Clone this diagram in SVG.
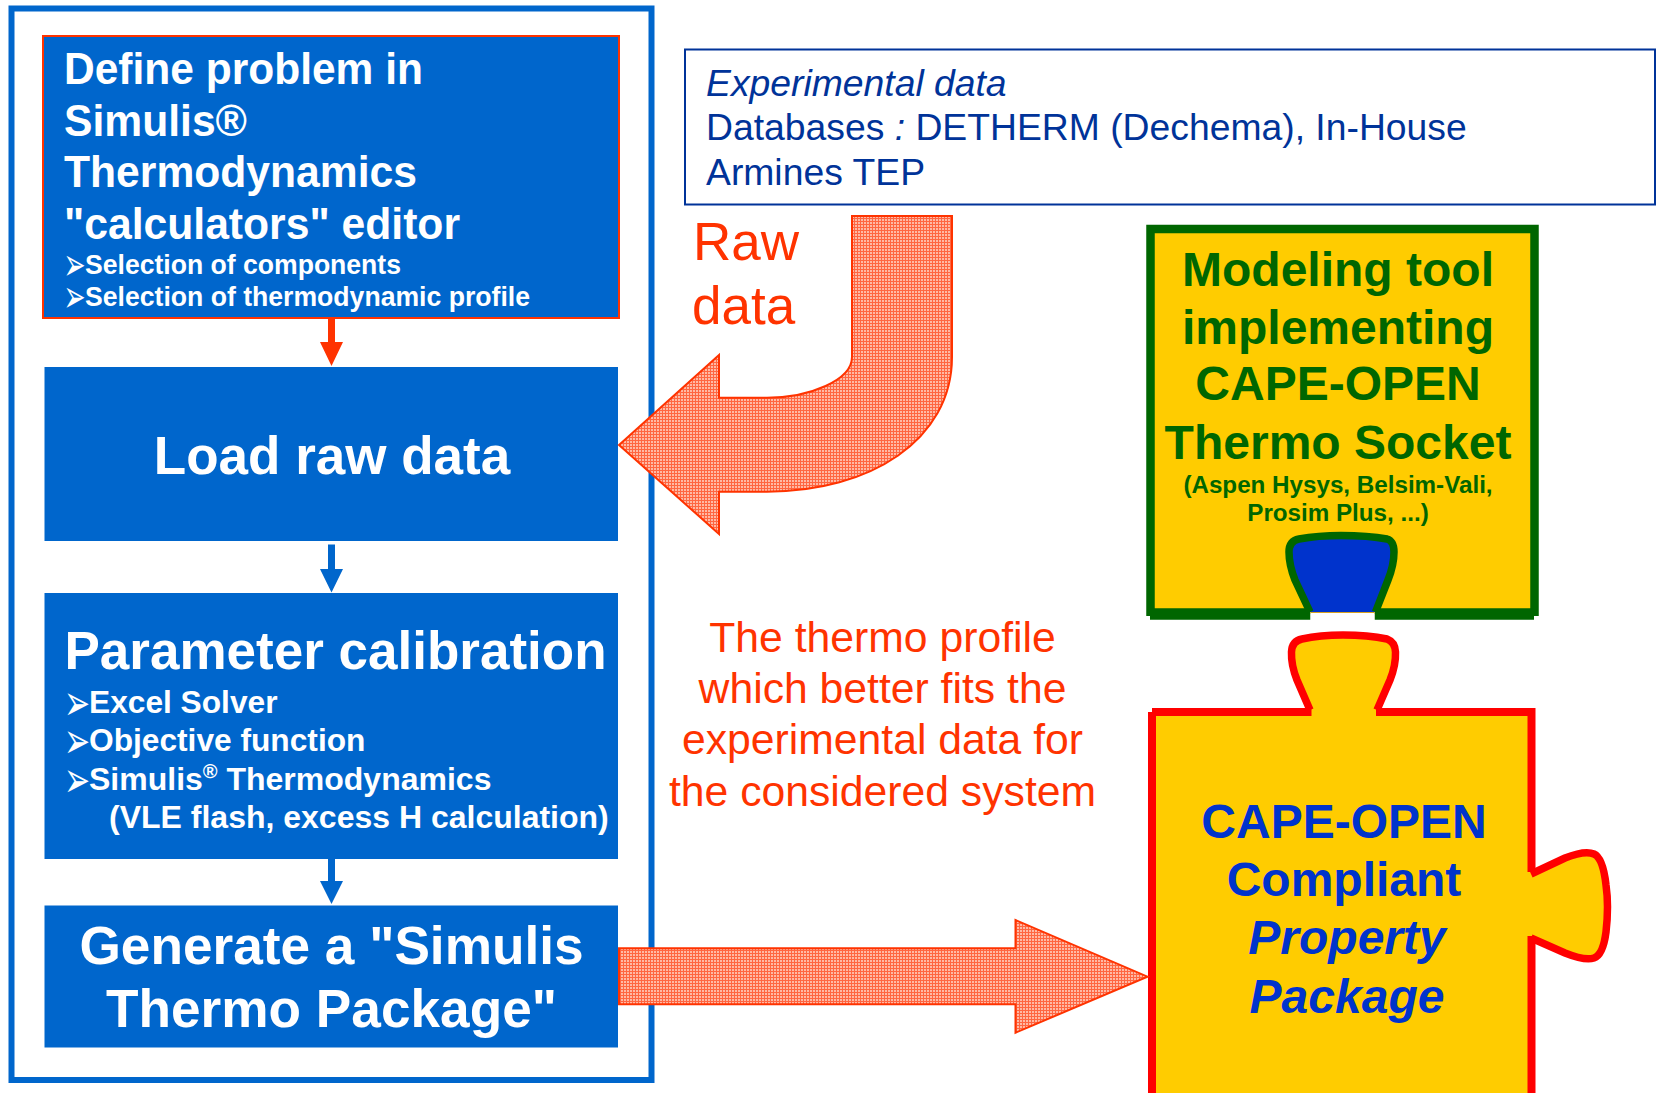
<svg xmlns="http://www.w3.org/2000/svg" width="1661" height="1093" viewBox="0 0 1661 1093">
<style>
text{font-family:"Liberation Sans",Arial,sans-serif}
.w{fill:#fff;font-weight:bold}
.box{fill:#0066cc}
.c{text-anchor:middle}
.r{fill:#ff3300}
.g{fill:#006600;font-weight:bold;text-anchor:middle}
.b{fill:#0033cc;font-weight:bold;text-anchor:middle}
.k{font-family:"DejaVu Sans",sans-serif;font-weight:normal;fill:#fff;font-size:24px}
.big{fill:url(#dots);stroke:#ff3300;stroke-width:2}
</style>
<defs>
<pattern id="dots" width="3" height="3" patternUnits="userSpaceOnUse">
<rect width="3" height="3" fill="#ff6641"/>
<rect width="2" height="2" fill="#ffb9a5"/>
</pattern>
</defs>
<rect width="1661" height="1093" fill="#fff"/>
<g id="frame"><rect x="11.500" y="8.500" width="640" height="1071.500" fill="none" stroke="#0066cc" stroke-width="6"/></g>

<g id="define">
<rect class="box" x="43" y="36" width="576" height="282" stroke="#ff3300" stroke-width="2"/>
<text class="w" font-size="44" x="64" y="84" textLength="359" lengthAdjust="spacingAndGlyphs">Define problem in</text>
<text class="w" font-size="44" x="64" y="136" textLength="183" lengthAdjust="spacingAndGlyphs">Simulis®</text>
<text class="w" font-size="44" x="64" y="187" textLength="353" lengthAdjust="spacingAndGlyphs">Thermodynamics</text>
<text class="w" font-size="44" x="64" y="239" textLength="396" lengthAdjust="spacingAndGlyphs">"calculators" editor</text>
<text class="k" transform="translate(63.500 280) scale(1.100 1.900)">➢</text>
<text class="w" font-size="27" x="85" y="274" textLength="316" lengthAdjust="spacingAndGlyphs">Selection of components</text>
<text class="k" transform="translate(63.500 312) scale(1.100 1.900)">➢</text>
<text class="w" font-size="27" x="85" y="306" textLength="445" lengthAdjust="spacingAndGlyphs">Selection of thermodynamic profile</text>
</g>
<g id="load">
<rect class="box" x="44.500" y="367" width="573.500" height="174"/>
<text class="w c" font-size="53" x="332" y="474">Load raw data</text>
</g>
<g id="calibration">
<rect class="box" x="44.500" y="593" width="573.500" height="266"/>
<text class="w" font-size="53" x="64.500" y="669">Parameter calibration</text>
<text class="k" transform="translate(64 720) scale(1.300 2.100)">➢</text>
<text class="w" font-size="31.700" x="89" y="713">Excel Solver</text>
<text class="k" transform="translate(64 758) scale(1.300 2.100)">➢</text>
<text class="w" font-size="31.700" x="89" y="751">Objective function</text>
<text class="k" transform="translate(64 797) scale(1.300 2.100)">➢</text>
<text class="w" font-size="32" x="89" y="790">Simulis<tspan font-size="20" dy="-12">®</tspan><tspan dy="12"> Thermodynamics</tspan></text>
<text class="w" font-size="32" x="109" y="828">(VLE flash, excess H calculation)</text>
</g>
<g id="generate">
<rect class="box" x="44.500" y="905.500" width="573.500" height="142"/>
<text class="w c" font-size="53.200" x="331.500" y="964">Generate a "Simulis</text>
<text class="w c" font-size="53.200" x="331.500" y="1027">Thermo Package"</text>
</g>

<g id="experimental">
<rect x="685" y="49.500" width="970" height="155" fill="#fff" stroke="#003399" stroke-width="2"/>
<text fill="#003399" font-size="37.300" font-style="italic" x="706" y="96">Experimental data</text>
<text fill="#003399" font-size="37.300" x="706" y="140">Databases <tspan font-style="italic">:</tspan> DETHERM (Dechema), In-House</text>
<text fill="#003399" font-size="37.300" x="706" y="184.500">Armines TEP</text>
</g>
<g id="raw-label">
<text class="r" font-size="53" x="693" y="260">Raw</text>
<text class="r" font-size="53" x="692" y="324">data</text>
</g>
<g id="profile-label">
<text class="r c" font-size="42.700" x="882.500" y="652">The thermo profile</text>
<text class="r c" font-size="42.700" x="882.500" y="703">which better fits the</text>
<text class="r c" font-size="42.700" x="882.500" y="754">experimental data for</text>
<text class="r c" font-size="42.700" x="882.500" y="806">the considered system</text>
</g>

<g id="modeling-tool">
<rect x="1150.500" y="229" width="384" height="385" fill="#ffcc00"/>
<path d="M1150.500 616V229H1534.500V616" fill="none" stroke="#006600" stroke-width="8.500"/>
<path d="M1150 614H1310.500M1374.500 614H1534" fill="none" stroke="#006600" stroke-width="11.500"/>
<rect x="1310.500" y="608" width="64" height="13" fill="#fff"/>
<path d="M1309 612L1295 580Q1289 565 1289 552Q1289 541 1299 539Q1318 535.500 1341 535.500Q1368 535.500 1387 539Q1394 541 1394 552Q1394 565 1388 580L1376.500 612Z" fill="#0033cc" stroke="none"/>
<path d="M1310 612L1295 580Q1289 565 1289 552Q1289 541 1299 539Q1318 535.500 1341 535.500Q1368 535.500 1387 539Q1394 541 1394 552Q1394 565 1388 580L1375.500 612" fill="none" stroke="#006600" stroke-width="7.500"/>
<rect x="1310.500" y="612" width="64" height="1" fill="#d8a020"/>
<text class="g" font-size="48" x="1338" y="286">Modeling tool</text>
<text class="g" font-size="48" x="1338" y="344">implementing</text>
<text class="g" font-size="48" x="1338" y="400">CAPE-OPEN</text>
<text class="g" font-size="48" x="1338" y="459">Thermo Socket</text>
<text class="g" font-size="24.200" x="1338" y="492.500">(Aspen Hysys, Belsim-Vali,</text>
<text class="g" font-size="24.200" x="1338" y="521">Prosim Plus, ...)</text>
</g>

<g id="property-package">
<path d="M1152 1100V712H1311L1297 680Q1291 665 1291.500 652Q1292 641 1302 639Q1320 635 1343 635Q1368 635 1387 639Q1395 642 1395.500 652Q1396 665 1390 680L1376.500 712H1531.500V873L1565 858Q1585 850 1594 854Q1603 858 1606 885Q1609 906 1606 932Q1603 955 1594 958Q1585 961 1565 953L1531.500 938V1100Z" fill="#ffcc00" stroke="none"/>
<path d="M1152 1100V712M1152 712H1311.500M1376 712H1535.500M1531.500 712V872M1531.500 936V1100" fill="none" stroke="#ff0000" stroke-width="8"/>
<path d="M1310 710L1297 680Q1291 665 1291.500 652Q1292 641 1302 639Q1320 635 1343 635Q1368 635 1387 639Q1395 642 1395.500 652Q1396 665 1390 680L1377 710" fill="none" stroke="#ff0000" stroke-width="7.500"/>
<path d="M1531 874L1565 858Q1585 850 1594 854Q1603 858 1606 885Q1609 906 1606 932Q1603 955 1594 958Q1585 961 1565 953L1531 938" fill="none" stroke="#ff0000" stroke-width="7.500"/>
<text class="b" font-size="48" x="1344" y="838">CAPE-OPEN</text>
<text class="b" font-size="48" x="1344" y="896">Compliant</text>
<text class="b" font-size="48" font-style="italic" x="1347" y="954">Property</text>
<text class="b" font-size="48" font-style="italic" x="1347" y="1013">Package</text>
</g>

<g id="connectors">
<path d="M328 319H335V342H343L331.500 366L320 342H328Z" fill="#ff3300"/>
<path d="M328 544.500H335V569H343L331.500 592.500L320 569H328Z" fill="#0066cc"/>
<path d="M328 859H335V881H343L331.500 904L320 881H328Z" fill="#0066cc"/>
<path class="big" d="M852 216H952V357C952 440 870 491.700 767 491.700H719V534L619 445L719 355V397.700H767C810 397.700 852 380 852 357Z"/>
<path class="big" d="M619 948.300H1015.500V920L1147.500 976.700L1015.500 1032.700V1004.300H619Z"/>
</g>
</svg>
